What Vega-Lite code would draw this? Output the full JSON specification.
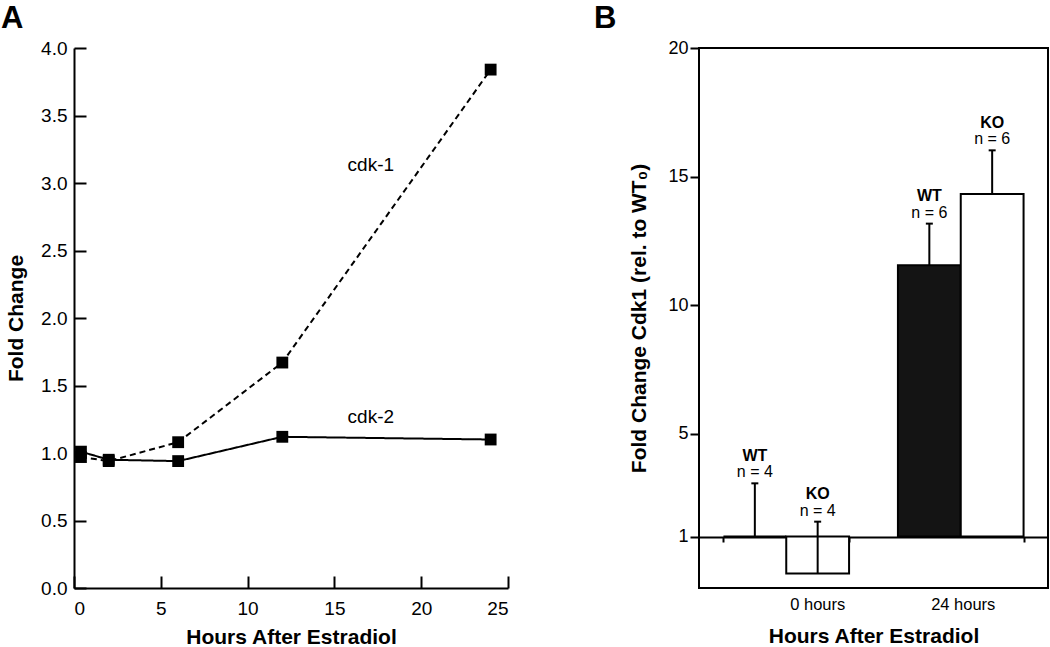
{
  "$schema": "https://vega.github.io/schema/vega-lite/v6.json",
  "padding": {"left": 1, "top": 2, "right": 0, "bottom": 0},
  "spacing": 191,
  "bounds": "flush",
  "config": {
    "font": "Liberation Sans",
    "axis": {
      "grid": false,
      "domainColor": "black",
      "tickColor": "black",
      "labelColor": "black",
      "titleColor": "black",
      "domainWidth": 2,
      "tickWidth": 2,
      "labelFontSize": 19,
      "titleFontSize": 21,
      "titleFontWeight": "bold",
      "labelFont": "Liberation Sans",
      "titleFont": "Liberation Sans"
    },
    "title": {"fontSize": 31, "fontWeight": "bold", "anchor": "start", "frame": "group", "color": "black", "font": "Liberation Sans"}
  },
  "hconcat": [
    {
      "width": 434,
      "height": 540,
      "view": {"stroke": null},
      "title": {"text": "A", "dx": -73, "offset": 4, "fontSize": 31, "fontWeight": "bold", "anchor": "start", "frame": "group"},
      "encoding": {
        "x": {
          "field": "hours",
          "type": "quantitative",
          "scale": {"domain": [0, 25], "nice": false},
          "axis": {
            "title": "Hours After Estradiol",
            "values": [0, 5, 10, 15, 20, 25],
            "tickSize": -12,
            "labelPadding": 23,
            "titlePadding": 8
          }
        },
        "y": {
          "field": "fold",
          "type": "quantitative",
          "scale": {"domain": [0, 4], "nice": false},
          "axis": {
            "title": "Fold Change",
            "values": [0, 0.5, 1, 1.5, 2, 2.5, 3, 3.5, 4],
            "format": ".1f",
            "tickSize": -12,
            "labelPadding": 19,
            "titlePadding": 14
          }
        }
      },
      "layer": [
        {
          "data": {"name": "timecourse"},
          "mark": {"type": "line", "strokeWidth": 2, "color": "black"},
          "encoding": {
            "strokeDash": {
              "field": "gene",
              "type": "nominal",
              "scale": {"domain": ["cdk-1", "cdk-2"], "range": [[6, 4], [1, 0]]},
              "legend": null
            },
            "order": {"field": "hours", "type": "quantitative"}
          }
        },
        {
          "data": {"name": "timecourse"},
          "mark": {"type": "square", "filled": true, "size": 140, "color": "black", "opacity": 1}
        },
        {
          "data": {"name": "linelabels"},
          "mark": {"type": "text", "fontSize": 19, "color": "black"},
          "encoding": {"text": {"field": "label"}}
        }
      ]
    },
    {
      "width": 349,
      "height": 540,
      "view": {"stroke": "black", "strokeWidth": 2},
      "title": {"text": "B", "dx": -105, "offset": 4, "fontSize": 31, "fontWeight": "bold", "anchor": "start", "frame": "group"},
      "data": {"name": "cdk1"},
      "encoding": {
        "x": {
          "field": "time",
          "type": "nominal",
          "sort": ["0 hours", "24 hours"],
          "scale": {"paddingInner": 0.28, "paddingOuter": 0.14},
          "axis": {
            "title": "Hours After Estradiol",
            "labelAngle": 0,
            "offset": -51,
            "tickBand": "extent",
            "tickSize": 5,
            "labelPadding": 54,
            "labelFontSize": 16.5,
            "labelOffset": {"condition": {"test": "datum.value === '0 hours'", "value": 31}, "value": 2},
            "titlePadding": 13
          }
        },
        "xOffset": {
          "field": "genotype",
          "type": "nominal",
          "sort": ["WT", "KO"],
          "scale": {"paddingInner": 0, "paddingOuter": 0}
        }
      },
      "layer": [
        {
          "mark": {"type": "bar", "stroke": "black", "strokeWidth": 2},
          "encoding": {
            "y": {
              "field": "value",
              "type": "quantitative",
              "scale": {"domain": [-1, 20], "nice": false, "zero": false},
              "axis": {
                "title": "Fold Change Cdk1 (rel. to WT₀)",
                "values": [1, 5, 10, 15, 20],
                "tickSize": 9,
                "labelPadding": 2,
                "labelFontSize": 18,
                "domain": false,
                "titlePadding": 18
              }
            },
            "y2": {"datum": 1},
            "fill": {
              "field": "genotype",
              "type": "nominal",
              "scale": {"domain": ["WT", "KO"], "range": ["#141414", "#ffffff"]},
              "legend": null
            }
          }
        },
        {
          "mark": {"type": "rule", "strokeWidth": 2, "color": "black"},
          "encoding": {
            "y": {"field": "value", "type": "quantitative"},
            "y2": {"field": "upper"}
          }
        },
        {
          "mark": {"type": "tick", "orient": "horizontal", "size": 7, "thickness": 2, "color": "black", "opacity": 1},
          "encoding": {"y": {"field": "upper", "type": "quantitative"}}
        },
        {
          "mark": {"type": "text", "fontSize": 16, "dy": -11, "color": "black"},
          "encoding": {
            "y": {"field": "upper", "type": "quantitative"},
            "text": {"field": "nlabel"}
          }
        },
        {
          "mark": {"type": "text", "fontSize": 16, "fontWeight": "bold", "dy": -27.5, "color": "black"},
          "encoding": {
            "y": {"field": "upper", "type": "quantitative"},
            "text": {"field": "genotype"}
          }
        }
      ],
      "resolve": {"scale": {"y": "shared"}}
    }
  ],
  "datasets": {
    "timecourse": [
      {"gene": "cdk-1", "hours": 0.4, "fold": 0.97},
      {"gene": "cdk-1", "hours": 2, "fold": 0.94},
      {"gene": "cdk-1", "hours": 6, "fold": 1.08},
      {"gene": "cdk-1", "hours": 12, "fold": 1.67},
      {"gene": "cdk-1", "hours": 24, "fold": 3.84},
      {"gene": "cdk-2", "hours": 0.4, "fold": 1.01},
      {"gene": "cdk-2", "hours": 2, "fold": 0.95},
      {"gene": "cdk-2", "hours": 6, "fold": 0.94},
      {"gene": "cdk-2", "hours": 12, "fold": 1.12},
      {"gene": "cdk-2", "hours": 24, "fold": 1.1}
    ],
    "linelabels": [
      {"label": "cdk-1", "hours": 17.1, "fold": 3.13},
      {"label": "cdk-2", "hours": 17.1, "fold": 1.27}
    ],
    "cdk1": [
      {"time": "0 hours", "genotype": "WT", "value": 1, "upper": 3.07, "nlabel": "n = 4"},
      {"time": "0 hours", "genotype": "KO", "value": -0.44, "upper": 1.58, "nlabel": "n = 4"},
      {"time": "24 hours", "genotype": "WT", "value": 11.55, "upper": 13.17, "nlabel": "n = 6"},
      {"time": "24 hours", "genotype": "KO", "value": 14.32, "upper": 16.02, "nlabel": "n = 6"}
    ]
  }
}
